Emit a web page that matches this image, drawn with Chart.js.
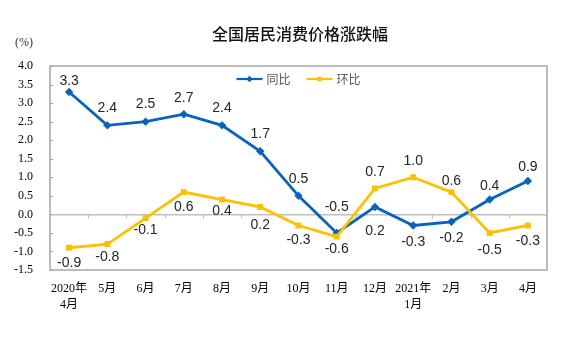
<!DOCTYPE html>
<html><head><meta charset="utf-8">
<script src="https://cdn.jsdelivr.net/npm/chart.js@4/dist/chart.umd.min.js"></script>
<style>html,body{margin:0;padding:0;background:#fff;}</style>
</head><body>
<canvas id="c" width="570" height="350"></canvas>
<script>
const categories = [['2020年','4月'],'5月','6月','7月','8月','9月','10月','11月','12月',['2021年','1月'],'2月','3月','4月'];
const yoyValues = [3.3,2.4,2.5,2.7,2.4,1.7,0.5,-0.5,0.2,-0.3,-0.2,0.4,0.9];
const momValues = [-0.9,-0.8,-0.1,0.6,0.4,0.2,-0.3,-0.6,0.7,1.0,0.6,-0.5,-0.3];
const yMin = -1.5, yMax = 4.0, yStep = 0.5;
const seriesNames = ['同比','环比'];
const chartTitle = '全国居民消费价格涨跌幅';
const unitLabel = '(%)';

// label placement (pixel offset from the point; negative = above)
const yoyLabelOffsets = [-11,-17,-17,-16,-17,-17,-17,-26,24,17,16,-13,-14];
const momLabelOffsets = [15,13,12,15,12,18,15,13,-16,-16,-11,17,16];

const BLUE = '#0563C1';
const YELLOW = '#FFC000';
const SERIF = "'Liberation Serif','Noto Sans CJK SC',serif";
const SANS = "'Liberation Sans',Arial,sans-serif";
const CJK = "'Noto Sans CJK SC',sans-serif";

const framePlugin = {
  id: 'frame',
  beforeDatasetsDraw(chart) {
    const {ctx, chartArea: a, scales} = chart;
    ctx.save();
    ctx.strokeStyle = '#a6a6a6';
    ctx.lineWidth = 1.5;
    ctx.strokeRect(a.left, a.top, a.right - a.left, a.bottom - a.top);
    // tick marks on the zero line at category boundaries
    const y0 = scales.y.getPixelForValue(0);
    ctx.strokeStyle = '#bfbfbf';
    ctx.lineWidth = 1;
    for (let i = 1; i < categories.length; i++) {
      const x = Math.round((scales.x.getPixelForValue(i - 1) + scales.x.getPixelForValue(i)) / 2) + 0.5;
      ctx.beginPath(); ctx.moveTo(x, y0); ctx.lineTo(x, y0 + 4); ctx.stroke();
    }
    // small inward tick marks on the value axis
    ctx.strokeStyle = '#a6a6a6';
    scales.y.ticks.forEach(t => {
      const y = Math.round(scales.y.getPixelForValue(t.value)) + 0.5;
      ctx.beginPath(); ctx.moveTo(a.left, y); ctx.lineTo(a.left + 3, y); ctx.stroke();
    });
    ctx.restore();
  },
  afterDraw(chart) {
    const {ctx, chartArea: a} = chart;
    ctx.save();
    // title
    ctx.fillStyle = '#111';
    ctx.font = '500 16px ' + CJK;
    ctx.textAlign = 'center'; ctx.textBaseline = 'middle';
    ctx.fillText(chartTitle, 300, 34);
    // unit
    ctx.font = '12px ' + SERIF;
    ctx.fillStyle = '#333';
    ctx.textAlign = 'left';
    ctx.fillText(unitLabel, 15, 43);
    // legend
    ctx.font = '12px ' + CJK;
    const lineW = 26, gap = 4, itemGap = 16;
    const widths = seriesNames.map(n => ctx.measureText(n).width);
    const total = widths.reduce((s, w) => s + lineW + gap + w, 0) + itemGap * (seriesNames.length - 1);
    let x = (a.left + a.right) / 2 - total / 2;
    const y = a.top + 13;
    chart.data.datasets.forEach((ds, i) => {
      ctx.strokeStyle = ds.borderColor; ctx.lineWidth = 2.2;
      ctx.beginPath(); ctx.moveTo(x, y); ctx.lineTo(x + lineW, y); ctx.stroke();
      ctx.fillStyle = ds.borderColor;
      Chart.helpers.drawPoint(ctx, {pointStyle: ds.pointStyle, radius: 3.2, borderWidth: 0, rotation: 0}, x + lineW / 2, y);
      ctx.fillStyle = '#595959';
      ctx.textAlign = 'left'; ctx.textBaseline = 'middle';
      ctx.fillText(seriesNames[i], x + lineW + gap, y);
      x += lineW + gap + widths[i] + itemGap;
    });
    ctx.restore();
  },
  afterDatasetsDraw(chart) {
    const {ctx} = chart;
    ctx.save();
    ctx.font = '14px ' + SANS;
    ctx.fillStyle = '#262626';
    ctx.textAlign = 'center'; ctx.textBaseline = 'middle';
    chart.data.datasets.forEach((ds, di) => {
      const meta = chart.getDatasetMeta(di);
      const offs = ds.labelOffsets;
      meta.data.forEach((el, i) => {
        ctx.fillText(ds.data[i].toFixed(1), el.x, el.y + offs[i]);
      });
    });
    ctx.restore();
  }
};

new Chart(document.getElementById('c'), {
  type: 'line',
  data: {
    labels: categories,
    datasets: [
      {label: seriesNames[0], data: yoyValues, borderColor: BLUE, backgroundColor: BLUE,
       borderWidth: 2.8, pointStyle: 'rectRot', pointRadius: 4.2, pointBorderWidth: 0,
       tension: 0, order: 1, labelOffsets: yoyLabelOffsets},
      {label: seriesNames[1], data: momValues, borderColor: YELLOW, backgroundColor: YELLOW,
       borderWidth: 2.8, pointStyle: 'rect', pointRadius: 4.2, pointBorderWidth: 0,
       tension: 0, order: 0, labelOffsets: momLabelOffsets}
    ]
  },
  options: {
    responsive: false, animation: false, devicePixelRatio: 1,
    layout: {padding: {left: 0, right: 23, top: 66, bottom: 0}},
    plugins: {legend: {display: false}, tooltip: {enabled: false}, title: {display: false}},
    scales: {
      x: {
        offset: true,
        grid: {display: false, drawTicks: false},
        border: {display: false},
        ticks: {padding: 11, color: '#000', maxRotation: 0, autoSkip: false,
                font: {family: SERIF, size: 12, lineHeight: 1.3}},
        afterFit(s) { s.height = 80; }
      },
      y: {
        min: yMin, max: yMax,
        grid: {color: c => (c.tick && c.tick.value === 0) ? '#bfbfbf' : 'rgba(0,0,0,0)', drawTicks: false, lineWidth: 1.5},
        border: {display: false},
        ticks: {stepSize: yStep, padding: 17, color: '#000',
                font: {family: SERIF, size: 12},
                callback: v => Number(v).toFixed(1)},
        afterFit(s) { s.width = 50; }
      }
    }
  },
  plugins: [framePlugin]
});
</script>
</body></html>
